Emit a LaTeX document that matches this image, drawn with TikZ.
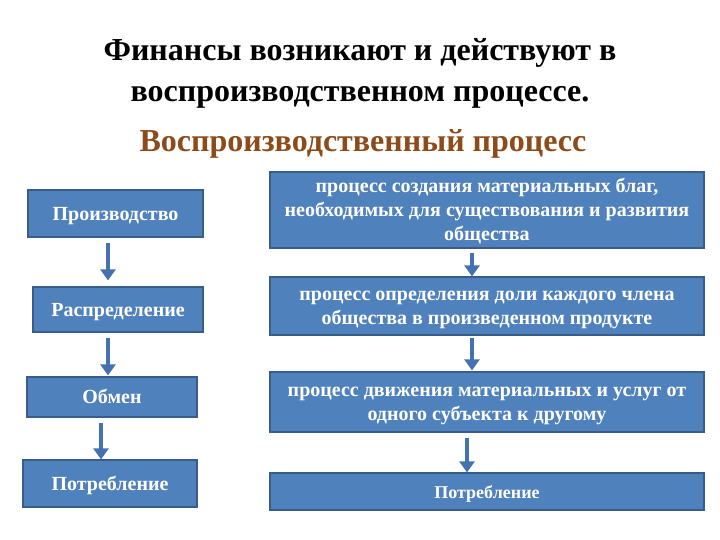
\documentclass[tikz,border=0pt]{standalone}
\usepackage{fontspec}
\setmainfont{Liberation Serif}
\usetikzlibrary{arrows.meta}
\definecolor{boxblue}{RGB}{79,129,189}
\definecolor{boxedge}{RGB}{56,93,138}
\definecolor{arrblue}{RGB}{68,114,176}
\definecolor{subbrown}{RGB}{140,75,25}
\newcommand{\btxt}[1]{\raisebox{-2pt}[\height][\depth]{\begin{tabular}{@{}c@{}}#1\end{tabular}}}
\begin{document}
\begin{tikzpicture}[x=1pt,y=-1pt,
  box/.style={draw=boxedge, line width=1.2pt, fill=boxblue, text=white,
    font=\bfseries\fontsize{20}{24}\selectfont, inner sep=0pt},
  flow/.style={draw=arrblue, line width=3.5pt, -{Triangle[width=15pt,length=11pt]}},
  ttl/.style={font=\bfseries\fontsize{32}{36}\selectfont, anchor=base}]
\useasboundingbox (0,0) rectangle (720,540);
\node[ttl] (t1) at (360,61) {Финансы возникают и действуют в};
\node[ttl] (t2) at (360,102) {воспроизводственном процессе.};
\node[ttl, text=subbrown] (t3) at (363,152) {Воспроизводственный процесс};

\node[box, minimum width=175pt, minimum height=47pt] (l1) at (115.5,213.5) {\btxt{Производство}};
\node[box, minimum width=170pt, minimum height=45pt] (l2) at (118,309.5) {\btxt{Распределение}};
\node[box, minimum width=170pt, minimum height=40pt] (l3) at (112,397) {\btxt{Обмен}};
\node[box, minimum width=174pt, minimum height=47pt] (l4) at (110,483.5) {\btxt{Потребление}};

\node[box, minimum width=434pt, minimum height=76pt] (r1) at (487,210) {\btxt{процесс создания материальных благ,\\необходимых для существования и развития\\общества}};
\node[box, minimum width=434pt, minimum height=58pt] (r2) at (487,306) {\btxt{процесс определения доли каждого члена\\общества в произведенном продукте}};
\node[box, minimum width=434pt, minimum height=60pt] (r3) at (487,402) {\btxt{процесс движения материальных и услуг от\\одного субъекта к другому}};
\node[box, minimum width=434pt, minimum height=37pt, font=\bfseries\fontsize{18}{24}\selectfont] (r4) at (487,491.5) {\btxt{Потребление}};

\draw[flow, shorten <=5pt, shorten >=6pt] ([xshift=-7.5pt]l1.south) -- ([xshift=-10pt]l2.north);
\draw[flow, shorten <=5pt, shorten >=1pt] ([xshift=-10pt]l2.south) -- ([xshift=-4pt]l3.north);
\draw[flow, shorten <=5pt] ([xshift=-11pt]l3.south) -- ([xshift=-9pt]l4.north);
\draw[flow, shorten <=4pt] ([xshift=-15pt]r1.south) -- ([xshift=-15pt]r2.north);
\draw[flow, shorten <=2pt, shorten >=1pt] ([xshift=-15pt]r2.south) -- ([xshift=-15pt]r3.north);
\draw[flow, shorten <=5pt] ([xshift=-20pt]r3.south) -- ([xshift=-20pt]r4.north);
\end{tikzpicture}
\end{document}
